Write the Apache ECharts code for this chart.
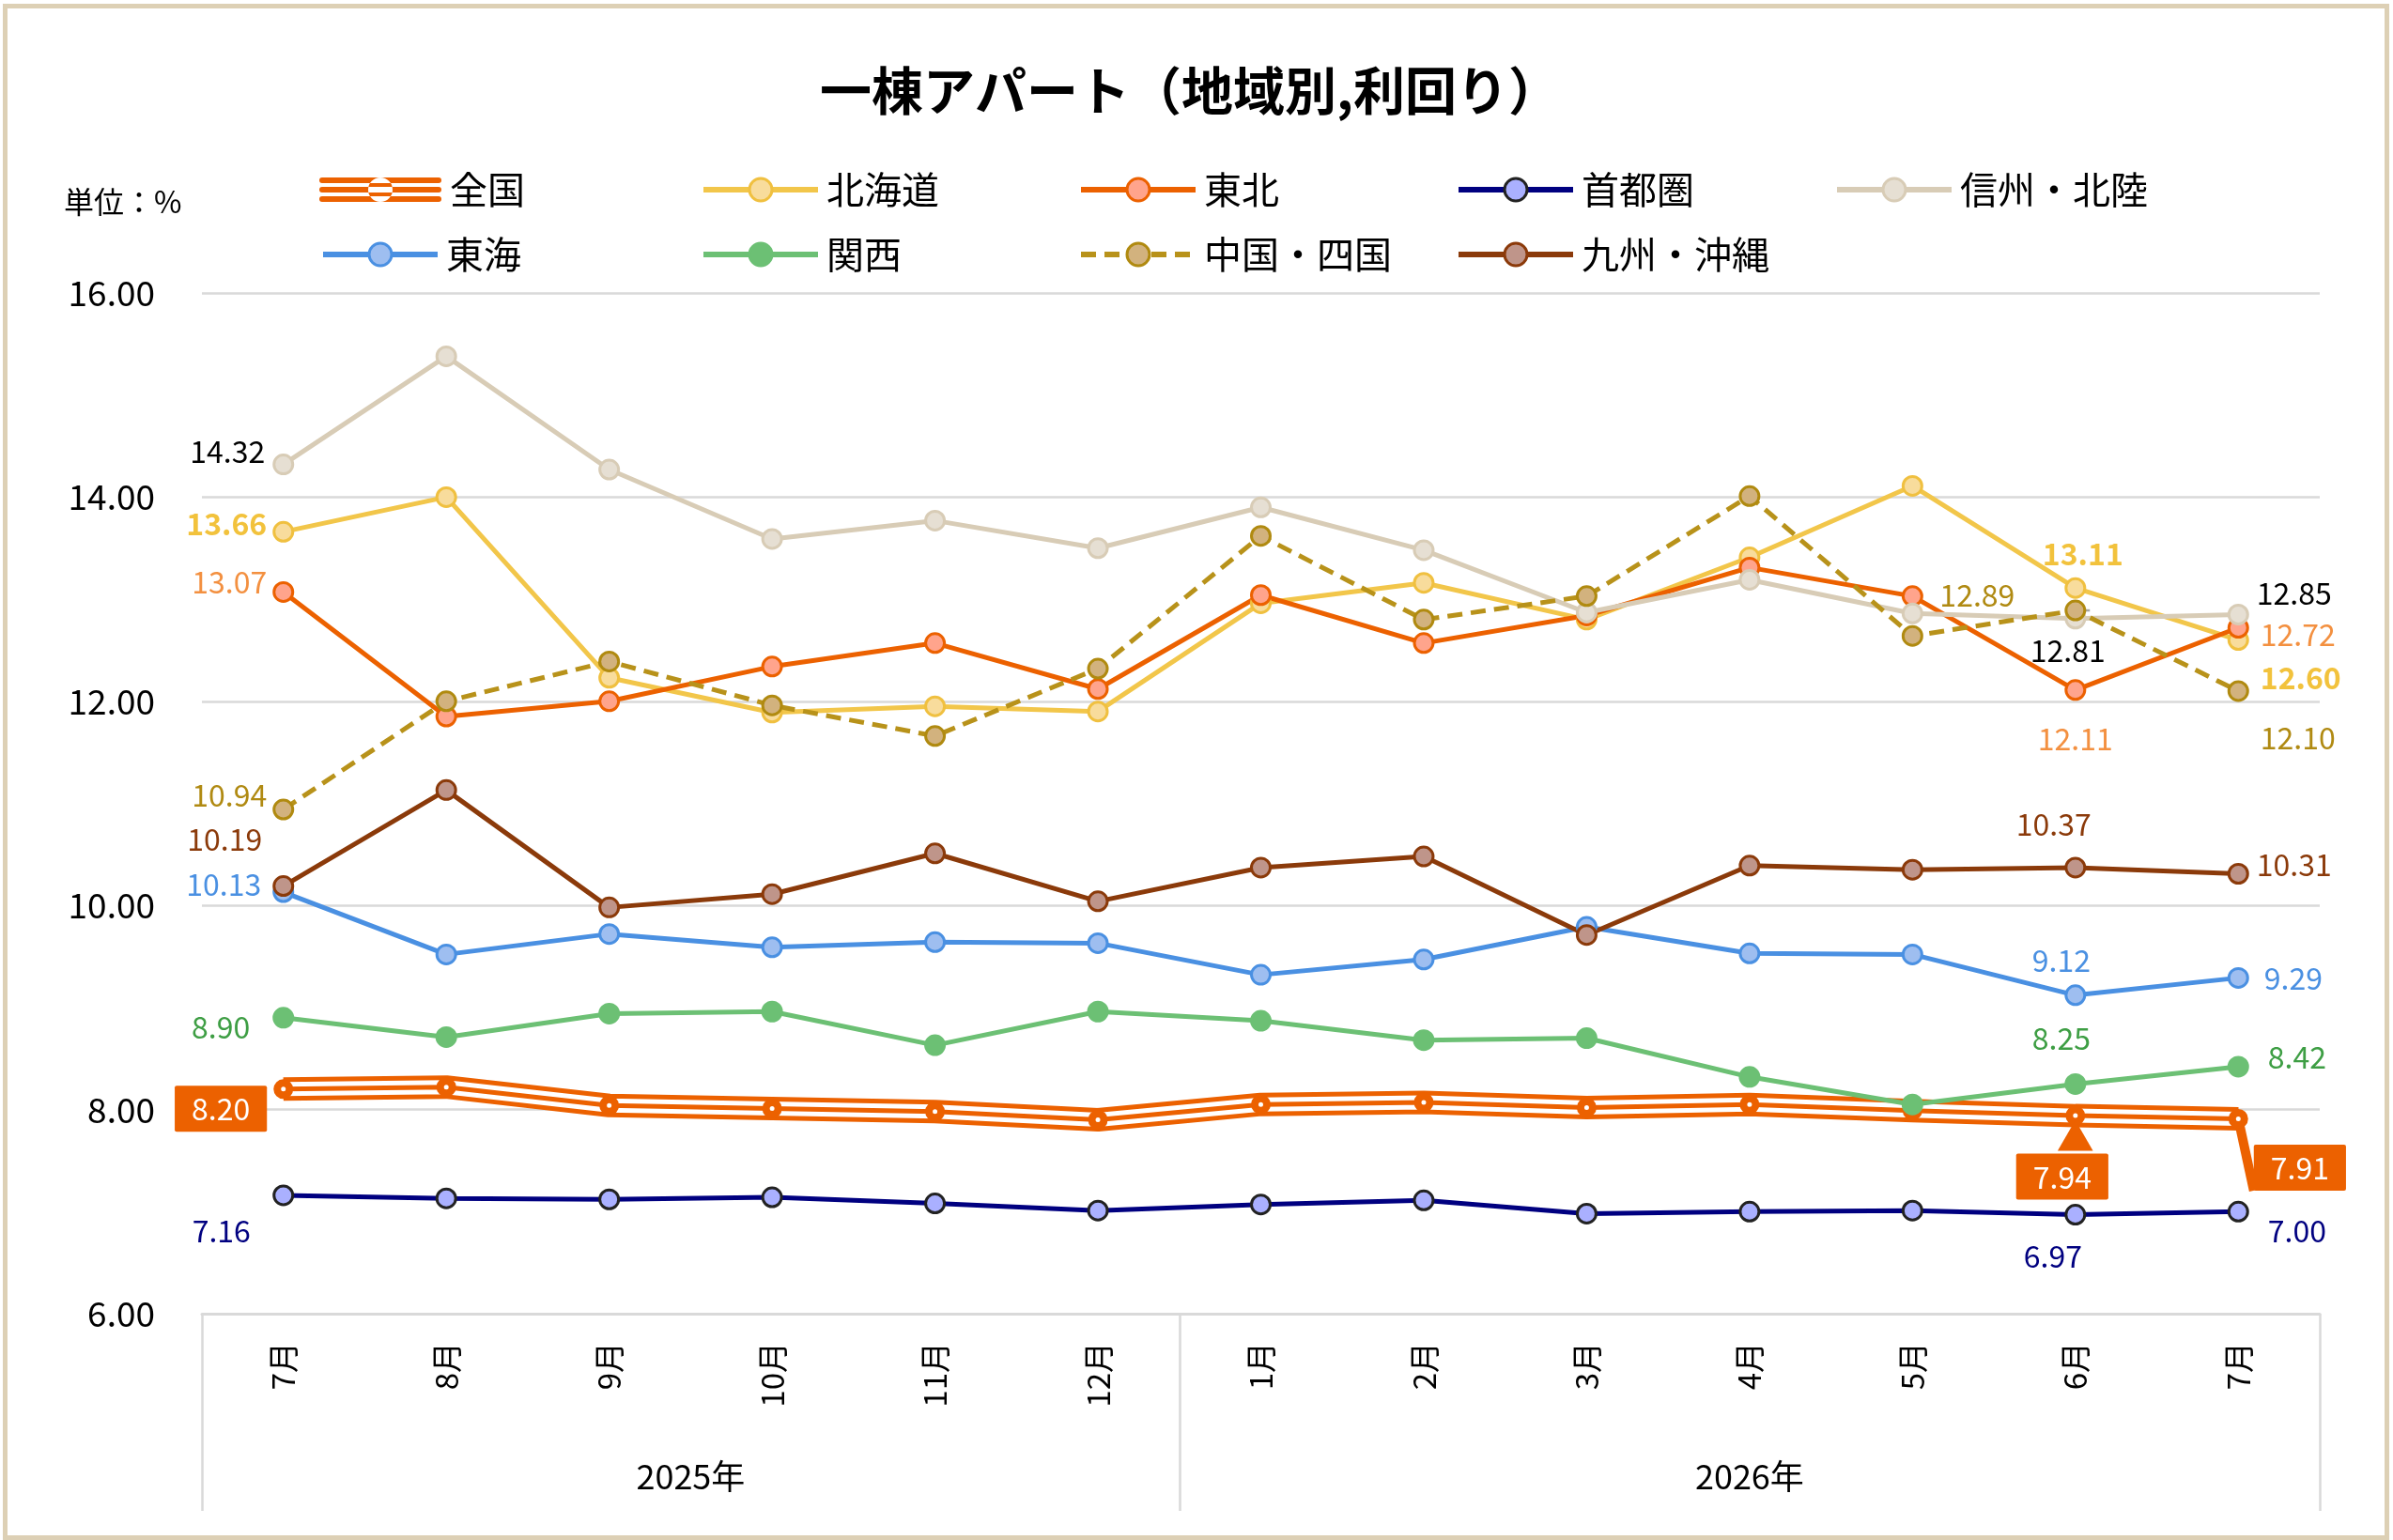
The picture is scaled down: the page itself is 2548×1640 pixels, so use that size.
<!DOCTYPE html>
<html>
<head>
<meta charset="utf-8">
<script src="https://cdn.jsdelivr.net/npm/echarts@6/dist/echarts.min.js"></script>
<style>
  html, body { margin: 0; padding: 0; background: #fff; }
  #chart { position: absolute; left: 0; top: 0; width: 2548px; height: 1640px; }
  #frame { position: absolute; left: 3px; top: 4px; width: 2541px; height: 1636px; box-sizing: border-box; border: 5px solid #DDD0B5; pointer-events: none; }
</style>
</head>
<body>
<div id="chart"></div>
<div id="frame"></div>
<script>
// ---- data ----
const months = ['7月','8月','9月','10月','11月','12月','1月','2月','3月','4月','5月','6月','7月'];
const monthYears = ['2025年','2025年','2025年','2025年','2025年','2025年','2026年','2026年','2026年','2026年','2026年','2026年','2026年'];
const yTicks = [6, 8, 10, 12, 14, 16];

const zenkoku  = [8.20, 8.22, 8.04, 8.01, 7.98, 7.90, 8.05, 8.07, 8.02, 8.05, 7.99, 7.94, 7.91];
const hokkaido = [13.66, 14.00, 12.23, 11.89, 11.95, 11.90, 12.96, 13.16, 12.80, 13.41, 14.11, 13.11, 12.60];
const tohoku   = [13.07, 11.85, 12.00, 12.34, 12.57, 12.12, 13.04, 12.57, 12.84, 13.31, 13.03, 12.11, 12.72];
const shutoken = [7.16, 7.13, 7.12, 7.14, 7.08, 7.01, 7.07, 7.11, 6.98, 7.00, 7.01, 6.97, 7.00];
const shinshu  = [14.32, 15.38, 14.27, 13.59, 13.77, 13.50, 13.90, 13.48, 12.87, 13.19, 12.86, 12.81, 12.85];
const tokai    = [10.13, 9.52, 9.72, 9.59, 9.64, 9.63, 9.32, 9.47, 9.79, 9.53, 9.52, 9.12, 9.29];
const kansai   = [8.90, 8.71, 8.94, 8.96, 8.63, 8.96, 8.87, 8.68, 8.70, 8.32, 8.05, 8.25, 8.42];
const chugoku  = [10.94, 12.00, 12.39, 11.96, 11.66, 12.32, 13.62, 12.80, 13.03, 14.01, 12.64, 12.89, 12.10];
const kyushu   = [10.19, 11.13, 9.98, 10.11, 10.51, 10.04, 10.37, 10.48, 9.71, 10.39, 10.35, 10.37, 10.31];

// ---- styling / layout config ----
const FONT = '"Noto Sans CJK JP", "Noto Sans", sans-serif';
const ORANGE = '#EC6100';

// label placements: index -> [position, distance, dx, dy, leaderLine, pointerAbove]
const LBL = {
  shinshu:  {0:['left',8,0,-14], 11:['bottom',5,-8,2], 12:['right',8,0,-23]},
  hokkaido: {0:['left',6,0,-9], 11:['top',5,8,-4], 12:['right',12,0,40]},
  tohoku:   {0:['left',6,0,-11], 11:['bottom',5,0,20], 12:['right',12,0,7]},
  chugoku:  {0:['left',6,0,-15], 11:['left',5,-48,-16,true], 12:['right',12,0,50]},
  kyushu:   {0:['left',11,0,-50], 11:['top',5,-23,-14], 12:['right',8,0,-10]},
  tokai:    {0:['left',12,0,-8], 11:['top',5,-15,-5], 12:['right',16,0,0]},
  kansai:   {0:['left',24,0,10], 11:['top',5,-15,-16], 12:['right',20,0,-10]},
  shutoken: {0:['bottom',5,-66,5], 11:['bottom',5,-24,12], 12:['right',20,0,21]},
  zenkoku:  {0:['left',7,0,21], 11:['bottom',0,-14,-6,false,true], 12:['right',6,0,52,true]}
};

function withLabels(values, key, labelStyle, lineColor) {
  const cfg = LBL[key];
  return values.map((v, i) => {
    const c = cfg[i];
    if (!c) return v;
    const item = {
      value: v,
      label: Object.assign({
        show: true,
        position: c[0],
        distance: c[1],
        offset: [c[2], c[3]],
        formatter: (p) => Number(p.value).toFixed(2)
      }, labelStyle)
    };
    if (c[4]) {
      item.labelLine = { show: true, lineStyle: { color: lineColor, width: lineColor === ORANGE ? 10 : 2.5 } };
    }
    if (c[5]) {
      // callout box with a pointer on top (rich text)
      item.label = {
        show: true, position: c[0], distance: c[1], offset: [c[2], c[3]],
        formatter: (p) => '{ptr|▲}\n{box|' + Number(p.value).toFixed(2) + '}',
        rich: {
          ptr: { color: ORANGE, fontSize: 40, lineHeight: 36, padding: [0, 0, 0, 28], fontFamily: FONT, align: 'center' },
          box: { color: '#fff', fontSize: 32, fontFamily: FONT, backgroundColor: ORANGE,
                 padding: [9, 18, 8, 18], borderRadius: 2, align: 'center' }
        }
      };
    }
    return item;
  });
}

function lineSeries(name, values, key, o) {
  return {
    name: name,
    type: 'line',
    data: withLabels(values, key, {
      color: o.labelColor, fontSize: 32, fontFamily: FONT, fontWeight: o.bold ? 'bold' : 'normal'
    }, '#A6A6A6'),
    symbol: 'circle',
    symbolSize: 20,
    showAllSymbol: true,
    lineStyle: { color: o.line, width: 5, type: o.dash || 'solid' },
    itemStyle: { color: o.fill, borderColor: o.border, borderWidth: 3 },
    emphasis: { disabled: true },
    silent: true
  };
}

const series = [
  // 全国: triple (compound) line
  { name: '全国', type: 'line', data: zenkoku, symbol: 'none', showSymbol: false,
    lineStyle: { color: ORANGE, width: 25 }, itemStyle: { color: ORANGE }, emphasis: { disabled: true }, silent: true },
  { name: '全国_w', type: 'line', data: zenkoku, symbol: 'none', showSymbol: false,
    lineStyle: { color: '#ffffff', width: 15 }, emphasis: { disabled: true }, silent: true },
  { name: '全国_c', type: 'line', data: zenkoku, symbol: 'none', showSymbol: false,
    lineStyle: { color: ORANGE, width: 5 }, emphasis: { disabled: true }, silent: true },
  { name: '全国_m', type: 'line',
    data: withLabels(zenkoku, 'zenkoku', {
      color: '#fff', fontSize: 32, fontFamily: FONT, backgroundColor: ORANGE,
      padding: [9, 18, 8, 18], borderRadius: 2
    }, ORANGE),
    symbol: 'circle', symbolSize: 13, showAllSymbol: true,
    lineStyle: { opacity: 0, width: 0 },
    itemStyle: { color: '#ffffff', borderColor: ORANGE, borderWidth: 8 },
    emphasis: { disabled: true }, silent: true },
  lineSeries('北海道', hokkaido, 'hokkaido', { line: '#F2C64A', fill: '#F8DC9C', border: '#F0C040', labelColor: '#F2C23C', bold: true }),
  lineSeries('東北', tohoku, 'tohoku', { line: '#EC6100', fill: '#FFA48C', border: '#EC6100', labelColor: '#F39040' }),
  lineSeries('首都圏', shutoken, 'shutoken', { line: '#000080', fill: '#AAB0FF', border: '#222222', labelColor: '#000080' }),
  lineSeries('信州・北陸', shinshu, 'shinshu', { line: '#D8CCB6', fill: '#E6DFD3', border: '#D8CCB6', labelColor: '#000000' }),
  lineSeries('東海', tokai, 'tokai', { line: '#4A90E2', fill: '#9EBEF0', border: '#4A90E2', labelColor: '#4A90E2' }),
  lineSeries('関西', kansai, 'kansai', { line: '#6CC074', fill: '#6CC074', border: '#6CC074', labelColor: '#3E9E44' }),
  lineSeries('中国・四国', chugoku, 'chugoku', { line: '#B8921A', fill: '#D2B27E', border: '#B08A10', labelColor: '#B08A12', dash: [16, 9] }),
  lineSeries('九州・沖縄', kyushu, 'kyushu', { line: '#8B3A0A', fill: '#BF958A', border: '#8B3A0A', labelColor: '#8B3A0A' })
];

// legend layout (one legend per entry to keep the grid alignment)
const legendNames = [['全国','北海道','東北','首都圏','信州・北陸'], ['東海','関西','中国・四国','九州・沖縄']];
const legendX = [341, 746, 1148, 1550, 1953];
const legendY = [182, 251];
const ZK_ICON = 'path://M3,0H127A3,3 0 0,1 127,6H3A3,3 0 0,1 3,0Z M3,10H127A3,3 0 0,1 127,16H3A3,3 0 0,1 3,10Z M3,20H127A3,3 0 0,1 127,26H3A3,3 0 0,1 3,20Z M52,13a13,13 0 1,0 26,0a13,13 0 1,0 -26,0Z';
const legends = [];
legendNames.forEach((row, r) => row.forEach((nm, c) => {
  const isZ = nm === '全国';
  legends.push({
    left: legendX[c] - (isZ ? 1 : 0),
    top: legendY[r],
    padding: 0,
    itemWidth: isZ ? 130 : 122,
    itemHeight: isZ ? 26 : 30,
    itemGap: 0,
    selectedMode: false,
    lineStyle: { width: 6 },
    itemStyle: { borderWidth: 3 },
    textStyle: { fontSize: 40, color: '#000', fontFamily: FONT, padding: [0, 0, 0, 4] },
    data: [isZ ? { name: nm, icon: ZK_ICON } : nm]
  });
}));

// year groups from the month -> year list
const yearNames = [];
const yearCenters = [];
const yearBounds = [-0.5];
monthYears.forEach((y) => {
  if (yearNames.indexOf(y) < 0) yearNames.push(y);
});
yearNames.forEach((y) => {
  const first = monthYears.indexOf(y);
  const last = monthYears.lastIndexOf(y);
  yearCenters.push((first + last) / 2);
  yearBounds.push(last + 0.5);
});

const chart = echarts.init(document.getElementById('chart'), null, { renderer: 'canvas' });
chart.setOption({
  animation: false,
  backgroundColor: '#ffffff',
  textStyle: { fontFamily: FONT },
  title: [
    { text: '一棟アパート（地域別,利回り）', left: 1262, textAlign: 'center', top: 64,
      textStyle: { fontSize: 55, fontWeight: 'bold', color: '#000', fontFamily: FONT } },
    { text: '単位：%', left: 63, top: 194,
      textStyle: { fontSize: 32, fontWeight: 'normal', color: '#000', fontFamily: FONT } }
  ],
  legend: legends,
  grid: { left: 215, right: 78, top: 312, bottom: 241, containLabel: false, outerBoundsMode: 'none' },
  xAxis: [
    {
      type: 'category', data: months, boundaryGap: true,
      axisLine: { show: true, lineStyle: { color: '#D9D9D9', width: 3 } },
      axisTick: { show: false },
      axisLabel: { rotate: 90, fontSize: 33, color: '#000', margin: 30, fontFamily: FONT, interval: 0 },
      splitLine: { show: false }
    },
    {
      type: 'value', min: -0.5, max: 12.5, position: 'bottom',
      axisLine: { show: false },
      splitLine: { show: false },
      axisTick: { show: true, customValues: yearBounds, length: 210, inside: false,
        lineStyle: { color: '#D9D9D9', width: 2.5 } },
      axisLabel: { show: true, customValues: yearCenters, margin: 155, fontSize: 36, color: '#000', fontFamily: FONT,
        formatter: (v) => { const k = yearCenters.indexOf(v); return k >= 0 ? yearNames[k] : ''; } }
    }
  ],
  yAxis: {
    type: 'value', min: yTicks[0], max: yTicks[yTicks.length - 1], interval: 2,
    axisLine: { show: false }, axisTick: { show: false },
    axisLabel: { fontSize: 37, color: '#000', margin: 50, fontFamily: FONT, formatter: (v) => v.toFixed(2) },
    splitLine: { show: true, lineStyle: { color: '#D9D9D9', width: 2.5 } }
  },
  series: series
});
</script>
</body>
</html>
